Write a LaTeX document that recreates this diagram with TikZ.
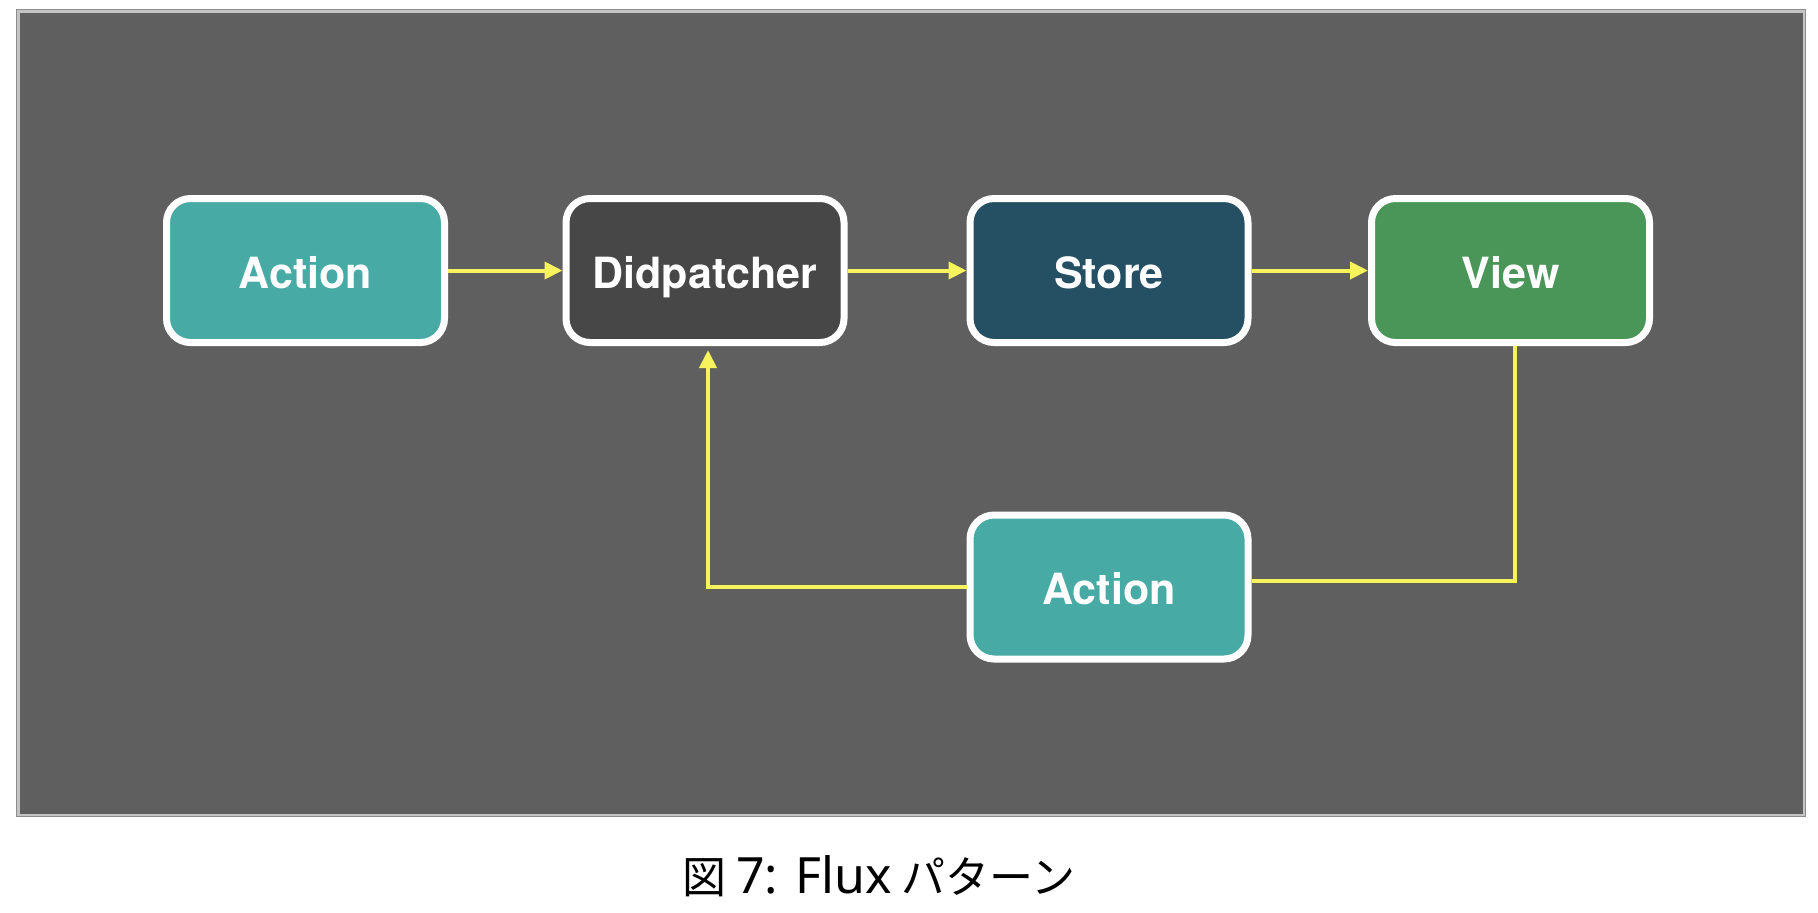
\documentclass[tikz,border=0pt]{standalone}
\usepackage{fontspec}
\setmainfont{TeX Gyre Heros}
\newfontfamily\cjkfont{Noto Sans CJK JP}
\newfontfamily\latfont{Noto Sans}
\usetikzlibrary{arrows.meta}
\definecolor{bgdark}{HTML}{5F5F5F}
\definecolor{frameout}{HTML}{8C8C8C}
\definecolor{framein}{HTML}{C4C4C4}
\definecolor{teal}{HTML}{47AAA5}
\definecolor{dispc}{HTML}{474747}
\definecolor{storec}{HTML}{254F63}
\definecolor{viewc}{HTML}{4A9658}
\definecolor{arrowc}{HTML}{F6F35C}
\tikzset{
  box/.style={draw=white, line width=3.5pt, rounded corners=12pt,
    minimum width=139pt, minimum height=72pt, inner sep=0pt,
    text height=20pt, text depth=2.5pt,
    text=white, font=\fontsize{21.5pt}{24pt}\selectfont\bfseries},
  link/.style={draw=arrowc, line width=2pt},
  tip/.style={-{Triangle[length=9pt,width=8.5pt]}}
}
\begin{document}
\begin{tikzpicture}[x=0.5pt,y=-0.5pt]
\useasboundingbox (0,0) rectangle (1818,912);
\fill[frameout] (16,9) rectangle (1806,817);
\fill[framein] (17,10) rectangle (1805,816);
\fill[bgdark] (20,13) rectangle (1803,814);

\node[box, fill=teal] (a1) at (305.5,270.5) {Action};
\node[box, fill=dispc] (d) at (705,270.5) {Didpatcher};
\node[box, fill=storec] (s) at (1109,270.5) {Store};
\node[box, fill=viewc] (v) at (1510.5,270.5) {View};
\node[box, fill=teal] (a2) at (1109,587) {Action};

\draw[link, tip] (a1.east) -- (d.west);
\draw[link, tip] (d.east) -- (s.west);
\draw[link, tip] (s.east) -- (v.west);

\coordinate (vr) at (1515,581);
\draw[link] (v.south -| vr) -- (vr) -- (vr -| a2.east);
\coordinate (dl) at (708,587);
\draw[link, tip, shorten >=2pt] (a2.west |- dl) -- (dl) -- (dl |- d.south);

\node[anchor=base, inner sep=0pt] (cap) at (879,893)
  {\cjkfont\fontsize{22pt}{24pt}\selectfont 図 {\latfont\fontsize{25pt}{26pt}\selectfont 7: Flux} パターン};
\end{tikzpicture}
\end{document}
